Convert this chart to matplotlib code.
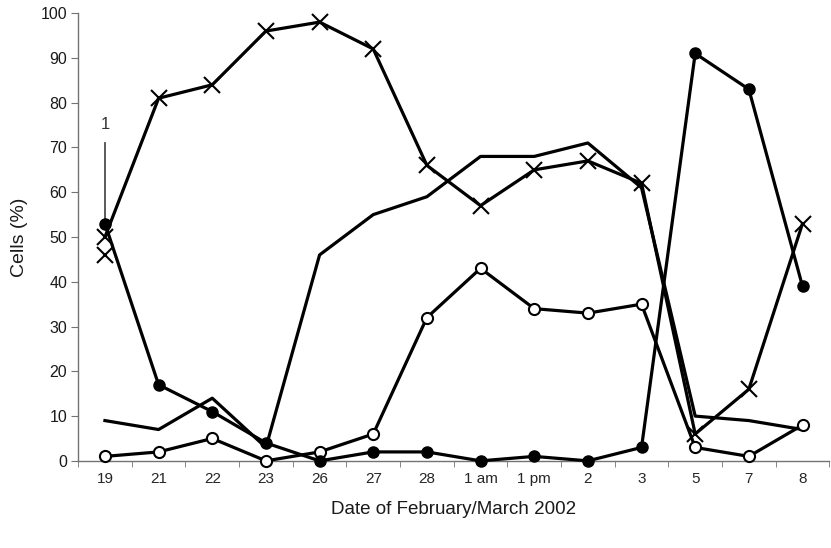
import numpy as np
import matplotlib
matplotlib.use('Agg')
import matplotlib.pyplot as plt

plt.rcParams['font.family'] = ['Liberation Sans', 'DejaVu Sans']

dates = ['19', '21', '22', '23', '26', '27', '28', '1 am', '1 pm', '2', '3', '5', '7', '8']

cross = [50, 81, 84, 96, 98, 92, 66, 57, 65, 67, 62, 6, 16, 53]
filled = [53, 17, 11, 4, 0, 2, 2, 0, 1, 0, 3, 91, 83, 39]
open_ = [1, 2, 5, 0, 2, 6, 32, 43, 34, 33, 35, 3, 1, 8]
plain = [9, 7, 14, 3, 46, 55, 59, 68, 68, 71, 61, 10, 9, 7]
extra_cross = 46  # lone cross at day 19


def style_ax(ax, n):
    for s in ['top', 'right']:
        ax.spines[s].set_visible(False)
    for s in ['left', 'bottom']:
        ax.spines[s].set_color('0.45')
        ax.spines[s].set_linewidth(1.0)

    ax.set_xlim(-0.5, n - 0.5)
    ax.set_ylim(0, 100)
    ax.set_yticks(np.arange(0, 101, 10))
    ax.set_xticks(np.arange(n))
    ax.set_xticklabels(dates)
    ax.set_xticks(np.arange(n + 1) - 0.5, minor=True)
    ax.tick_params(axis='x', which='major', length=0, labelsize=11, pad=8,
                   labelcolor='0.15')
    ax.tick_params(axis='x', which='minor', length=4, color='0.45', direction='out')
    ax.tick_params(axis='y', length=5, color='0.45', labelsize=11.5, pad=3,
                   labelcolor='0.1')

    ax.set_xlabel('Date of February/March 2002', fontsize=13.5, labelpad=11,
                  color='0.1')
    ax.set_ylabel('Cells (%)', fontsize=14, labelpad=9, color='0.1')
    return ax


fig = plt.figure(figsize=(8.31, 5.48), dpi=100)
ax = fig.add_axes([0.094, 0.159, 0.904, 0.817])

x = np.arange(len(dates))
kw = dict(color='black', lw=2.3, clip_on=False, zorder=3)

ax.plot(x, plain, **kw)
ax.plot(x, open_, marker='o', ms=8, mfc='white', mec='black', mew=1.5, **kw)
ax.plot(x, filled, marker='o', ms=8, mfc='black', mec='black', **kw)
ax.plot(x, cross, marker='x', ms=11, mew=1.5, **kw)
ax.plot([0], [extra_cross], marker='x', ms=11, mew=1.5, color='black',
        ls='none', zorder=3)

# annotation "1"
ax.plot([0, 0], [52, 71], color='0.3', lw=1.3, zorder=2)
ax.text(0, 73.5, '1', ha='center', va='bottom', fontsize=12, color='0.2')

style_ax(ax, len(dates))

fig.savefig('out.png', dpi=100)
